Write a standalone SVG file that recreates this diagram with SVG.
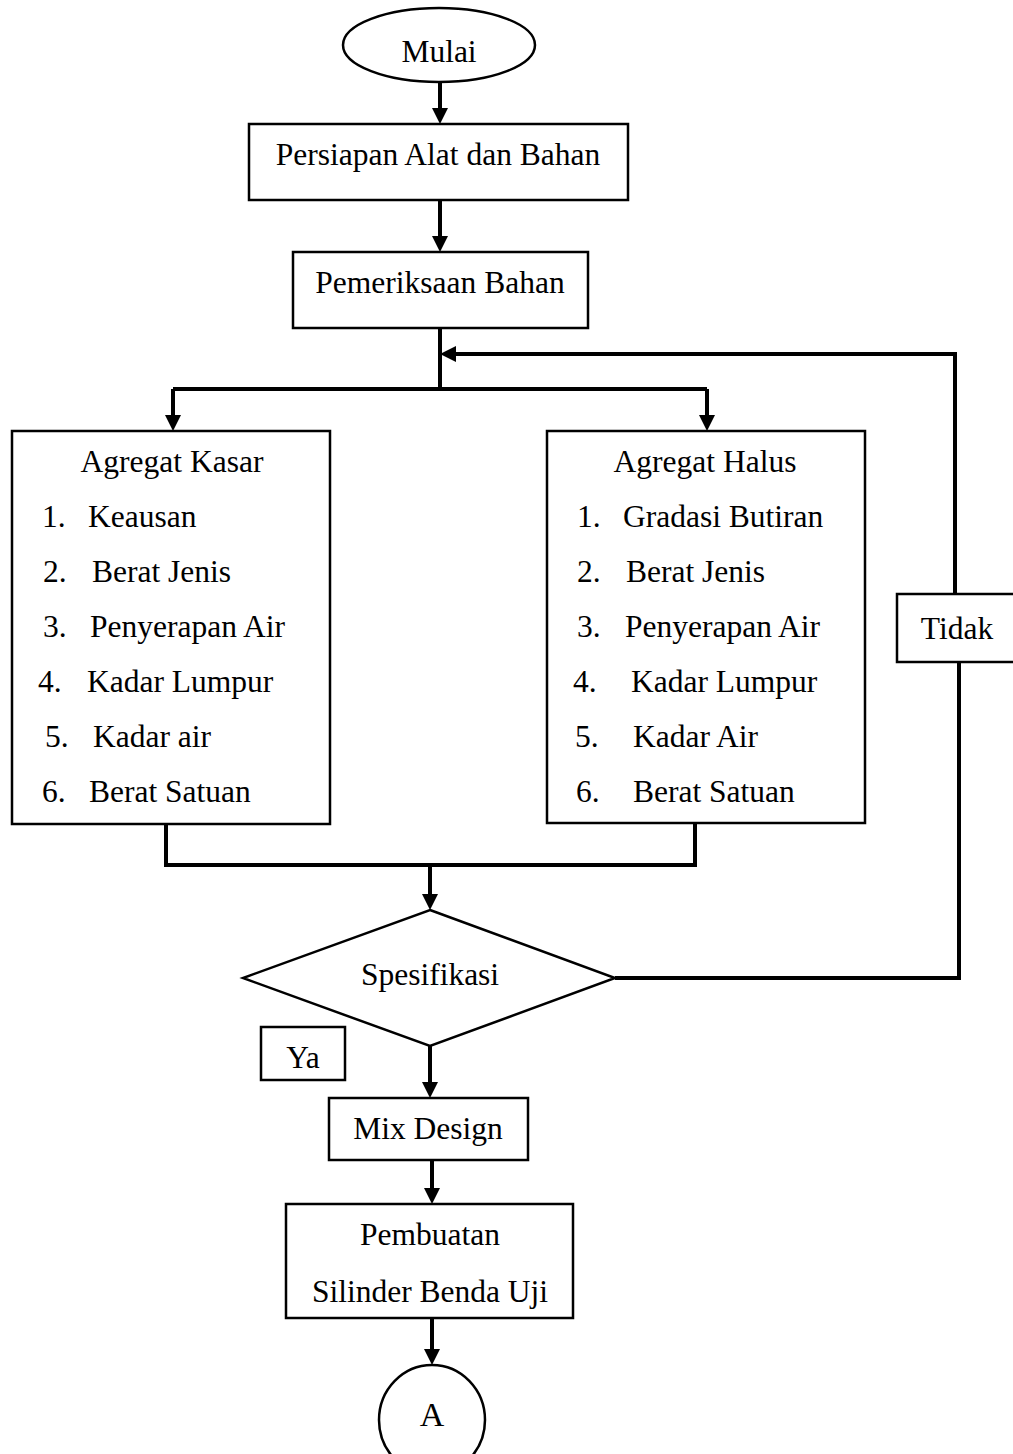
<svg xmlns="http://www.w3.org/2000/svg" width="1013" height="1454" viewBox="0 0 1013 1454">
<style>
.shape{fill:#fff;stroke:#000;stroke-width:2.5}
.conn{fill:none;stroke:#000;stroke-width:4}
.arr{fill:none;stroke:#000;stroke-width:4;marker-end:url(#ah)}
text{font-family:"Liberation Serif","Times New Roman",serif;font-size:31.5px;fill:#000}
.c{text-anchor:middle}
</style>
<defs>
<marker id="ah" markerUnits="userSpaceOnUse" markerWidth="16" markerHeight="16" viewBox="0 0 16 16" refX="6" refY="8" orient="auto">
<path d="M0,0 L16,8 L0,16 z" fill="#000"/>
</marker>
</defs>
<rect width="1013" height="1454" fill="#fff"/>
<g id="connectors">
<path class="arr" d="M440,82 V114"/>
<path class="arr" d="M440,200 V242"/>
<path class="conn" d="M440,328 V389"/>
<path class="conn" d="M173,389 H707"/>
<path class="arr" d="M173,389 V421"/>
<path class="arr" d="M707,389 V421"/>
<path class="conn" d="M166,824 V865 H695 V823"/>
<path class="arr" d="M430,865 V900"/>
<path class="conn" d="M615,978 H959 V662"/>
<path class="arr" d="M955,594 V354 H450"/>
<path class="arr" d="M430,1046 V1088"/>
<path class="arr" d="M432,1160 V1194"/>
<path class="arr" d="M432,1318 V1355"/>
</g>
<g id="mulai">
<ellipse class="shape" cx="439" cy="45" rx="96" ry="37"/>
<text class="c" x="439" y="62">Mulai</text>
</g>
<g id="persiapan">
<rect class="shape" x="249" y="124" width="379" height="76"/>
<text class="c" x="438" y="165">Persiapan Alat dan Bahan</text>
</g>
<g id="pemeriksaan">
<rect class="shape" x="293" y="252" width="295" height="76"/>
<text class="c" x="440" y="293">Pemeriksaan Bahan</text>
</g>
<g id="agregat-kasar">
<rect class="shape" x="12" y="431" width="318" height="393"/>
<text class="c" x="172" y="472">Agregat Kasar</text>
<text x="42" y="527">1.</text><text x="88" y="527">Keausan</text>
<text x="43" y="582">2.</text><text x="92" y="582">Berat Jenis</text>
<text x="43" y="637">3.</text><text x="90" y="637">Penyerapan Air</text>
<text x="38" y="692">4.</text><text x="87" y="692">Kadar Lumpur</text>
<text x="45" y="747">5.</text><text x="93" y="747">Kadar air</text>
<text x="42" y="802">6.</text><text x="89" y="802">Berat Satuan</text>
</g>
<g id="agregat-halus">
<rect class="shape" x="547" y="431" width="318" height="392"/>
<text class="c" x="705" y="472">Agregat Halus</text>
<text x="577" y="527">1.</text><text x="623" y="527">Gradasi Butiran</text>
<text x="577" y="582">2.</text><text x="626" y="582">Berat Jenis</text>
<text x="577" y="637">3.</text><text x="625" y="637">Penyerapan Air</text>
<text x="573" y="692">4.</text><text x="631" y="692">Kadar Lumpur</text>
<text x="575" y="747">5.</text><text x="633" y="747">Kadar Air</text>
<text x="576" y="802">6.</text><text x="633" y="802">Berat Satuan</text>
</g>
<g id="tidak">
<rect class="shape" x="897" y="594" width="130" height="68"/>
<text class="c" x="957" y="639">Tidak</text>
</g>
<g id="spesifikasi">
<polygon class="shape" points="430,910 615,978 430,1046 243,978"/>
<text class="c" x="430" y="985">Spesifikasi</text>
</g>
<g id="ya">
<rect class="shape" x="261" y="1027" width="84" height="53"/>
<text class="c" x="303" y="1068">Ya</text>
</g>
<g id="mix-design">
<rect class="shape" x="329" y="1098" width="199" height="62"/>
<text class="c" x="428" y="1139">Mix Design</text>
</g>
<g id="pembuatan">
<rect class="shape" x="286" y="1204" width="287" height="114"/>
<text class="c" x="430" y="1245">Pembuatan</text>
<text class="c" x="430" y="1302">Silinder Benda Uji</text>
</g>
<g id="a">
<ellipse class="shape" cx="432" cy="1420" rx="53" ry="55"/>
<text class="c" x="432" y="1426" style="font-size:34px">A</text>
</g>
</svg>
